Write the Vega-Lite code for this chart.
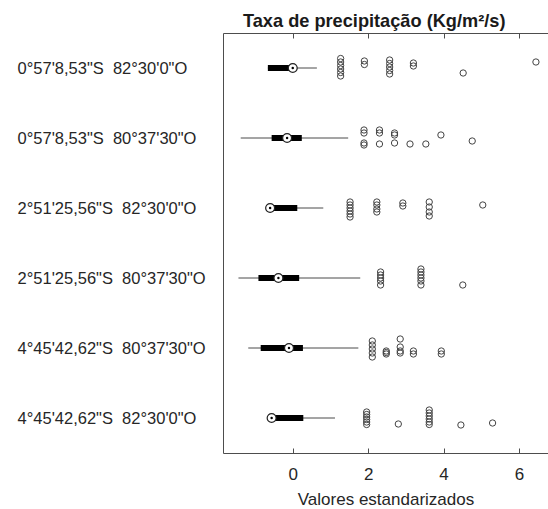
{
  "$schema": "https://vega.github.io/schema/vega-lite/v6.json",
  "autosize": "none",
  "width": 325,
  "height": 420,
  "padding": {"left": 223, "top": 33, "right": 0, "bottom": 56},
  "title": {
    "text": "Taxa de precipitação (Kg/m²/s)",
    "anchor": "start",
    "frame": "group",
    "dx": 20,
    "dy": 20,
    "offset": 7,
    "baseline": "alphabetic",
    "font": "Liberation Sans",
    "fontSize": 18.2,
    "fontWeight": "bold",
    "color": "#1a1a1a"
  },
  "datasets": {
    "stats": [
      {"site": "0°57'8,53\"S\u00a0 82°30'0\"O", "lo": -0.66, "q1": -0.66, "med": 0.0, "q3": 0.0, "hi": 0.64},
      {"site": "0°57'8,53\"S\u00a0 80°37'30\"O", "lo": -1.38, "q1": -0.56, "med": -0.15, "q3": 0.24, "hi": 1.47},
      {"site": "2°51'25,56\"S\u00a0 82°30'0\"O", "lo": -0.6, "q1": -0.6, "med": -0.6, "q3": 0.12, "hi": 0.81},
      {"site": "2°51'25,56\"S\u00a0 80°37'30\"O", "lo": -1.44, "q1": -0.91, "med": -0.38, "q3": 0.17, "hi": 1.79},
      {"site": "4°45'42,62\"S\u00a0 80°37'30\"O", "lo": -1.18, "q1": -0.85, "med": -0.1, "q3": 0.27, "hi": 1.74},
      {"site": "4°45'42,62\"S\u00a0 82°30'0\"O", "lo": -0.56, "q1": -0.56, "med": -0.56, "q3": 0.28, "hi": 1.12}
    ],
    "outliers": [
      {"site": "0°57'8,53\"S\u00a0 82°30'0\"O", "value": 1.27, "jitter": -0.95},
      {"site": "0°57'8,53\"S\u00a0 82°30'0\"O", "value": 1.27, "jitter": -0.6},
      {"site": "0°57'8,53\"S\u00a0 82°30'0\"O", "value": 1.27, "jitter": -0.25},
      {"site": "0°57'8,53\"S\u00a0 82°30'0\"O", "value": 1.27, "jitter": 0.1},
      {"site": "0°57'8,53\"S\u00a0 82°30'0\"O", "value": 1.27, "jitter": 0.45},
      {"site": "0°57'8,53\"S\u00a0 82°30'0\"O", "value": 1.27, "jitter": 0.8},
      {"site": "0°57'8,53\"S\u00a0 82°30'0\"O", "value": 1.9, "jitter": -0.7},
      {"site": "0°57'8,53\"S\u00a0 82°30'0\"O", "value": 1.9, "jitter": -0.35},
      {"site": "0°57'8,53\"S\u00a0 82°30'0\"O", "value": 2.57, "jitter": -0.8},
      {"site": "0°57'8,53\"S\u00a0 82°30'0\"O", "value": 2.57, "jitter": -0.45},
      {"site": "0°57'8,53\"S\u00a0 82°30'0\"O", "value": 2.57, "jitter": -0.1},
      {"site": "0°57'8,53\"S\u00a0 82°30'0\"O", "value": 2.57, "jitter": 0.25},
      {"site": "0°57'8,53\"S\u00a0 82°30'0\"O", "value": 2.57, "jitter": 0.6},
      {"site": "0°57'8,53\"S\u00a0 82°30'0\"O", "value": 3.2, "jitter": -0.5},
      {"site": "0°57'8,53\"S\u00a0 82°30'0\"O", "value": 3.2, "jitter": -0.2},
      {"site": "0°57'8,53\"S\u00a0 82°30'0\"O", "value": 4.52, "jitter": 0.5},
      {"site": "0°57'8,53\"S\u00a0 82°30'0\"O", "value": 6.45, "jitter": -0.6},

      {"site": "0°57'8,53\"S\u00a0 80°37'30\"O", "value": 1.89, "jitter": -0.8},
      {"site": "0°57'8,53\"S\u00a0 80°37'30\"O", "value": 1.89, "jitter": -0.5},
      {"site": "0°57'8,53\"S\u00a0 80°37'30\"O", "value": 1.89, "jitter": 0.5},
      {"site": "0°57'8,53\"S\u00a0 80°37'30\"O", "value": 1.89, "jitter": 0.7},
      {"site": "0°57'8,53\"S\u00a0 80°37'30\"O", "value": 2.3, "jitter": -0.8},
      {"site": "0°57'8,53\"S\u00a0 80°37'30\"O", "value": 2.3, "jitter": -0.5},
      {"site": "0°57'8,53\"S\u00a0 80°37'30\"O", "value": 2.3, "jitter": 0.6},
      {"site": "0°57'8,53\"S\u00a0 80°37'30\"O", "value": 2.7, "jitter": -0.5},
      {"site": "0°57'8,53\"S\u00a0 80°37'30\"O", "value": 2.7, "jitter": -0.3},
      {"site": "0°57'8,53\"S\u00a0 80°37'30\"O", "value": 2.7, "jitter": 0.5},
      {"site": "0°57'8,53\"S\u00a0 80°37'30\"O", "value": 3.11, "jitter": 0.6},
      {"site": "0°57'8,53\"S\u00a0 80°37'30\"O", "value": 3.53, "jitter": 0.6},
      {"site": "0°57'8,53\"S\u00a0 80°37'30\"O", "value": 3.93, "jitter": -0.3},
      {"site": "0°57'8,53\"S\u00a0 80°37'30\"O", "value": 4.76, "jitter": 0.3},

      {"site": "2°51'25,56\"S\u00a0 82°30'0\"O", "value": 1.52, "jitter": -0.6},
      {"site": "2°51'25,56\"S\u00a0 82°30'0\"O", "value": 1.52, "jitter": -0.3},
      {"site": "2°51'25,56\"S\u00a0 82°30'0\"O", "value": 1.52, "jitter": 0.0},
      {"site": "2°51'25,56\"S\u00a0 82°30'0\"O", "value": 1.52, "jitter": 0.3},
      {"site": "2°51'25,56\"S\u00a0 82°30'0\"O", "value": 1.52, "jitter": 0.6},
      {"site": "2°51'25,56\"S\u00a0 82°30'0\"O", "value": 1.52, "jitter": 0.9},
      {"site": "2°51'25,56\"S\u00a0 82°30'0\"O", "value": 2.23, "jitter": -0.6},
      {"site": "2°51'25,56\"S\u00a0 82°30'0\"O", "value": 2.23, "jitter": -0.3},
      {"site": "2°51'25,56\"S\u00a0 82°30'0\"O", "value": 2.23, "jitter": 0.1},
      {"site": "2°51'25,56\"S\u00a0 82°30'0\"O", "value": 2.23, "jitter": 0.4},
      {"site": "2°51'25,56\"S\u00a0 82°30'0\"O", "value": 2.92, "jitter": -0.5},
      {"site": "2°51'25,56\"S\u00a0 82°30'0\"O", "value": 2.92, "jitter": -0.2},
      {"site": "2°51'25,56\"S\u00a0 82°30'0\"O", "value": 3.62, "jitter": -0.6},
      {"site": "2°51'25,56\"S\u00a0 82°30'0\"O", "value": 3.62, "jitter": -0.1},
      {"site": "2°51'25,56\"S\u00a0 82°30'0\"O", "value": 3.62, "jitter": 0.4},
      {"site": "2°51'25,56\"S\u00a0 82°30'0\"O", "value": 3.62, "jitter": 0.8},
      {"site": "2°51'25,56\"S\u00a0 82°30'0\"O", "value": 5.04, "jitter": -0.3},

      {"site": "2°51'25,56\"S\u00a0 80°37'30\"O", "value": 2.33, "jitter": -0.6},
      {"site": "2°51'25,56\"S\u00a0 80°37'30\"O", "value": 2.33, "jitter": -0.3},
      {"site": "2°51'25,56\"S\u00a0 80°37'30\"O", "value": 2.33, "jitter": 0.0},
      {"site": "2°51'25,56\"S\u00a0 80°37'30\"O", "value": 2.33, "jitter": 0.3},
      {"site": "2°51'25,56\"S\u00a0 80°37'30\"O", "value": 2.33, "jitter": 0.7},
      {"site": "2°51'25,56\"S\u00a0 80°37'30\"O", "value": 3.4, "jitter": -0.9},
      {"site": "2°51'25,56\"S\u00a0 80°37'30\"O", "value": 3.4, "jitter": -0.6},
      {"site": "2°51'25,56\"S\u00a0 80°37'30\"O", "value": 3.4, "jitter": -0.3},
      {"site": "2°51'25,56\"S\u00a0 80°37'30\"O", "value": 3.4, "jitter": 0.0},
      {"site": "2°51'25,56\"S\u00a0 80°37'30\"O", "value": 3.4, "jitter": 0.3},
      {"site": "2°51'25,56\"S\u00a0 80°37'30\"O", "value": 3.4, "jitter": 0.7},
      {"site": "2°51'25,56\"S\u00a0 80°37'30\"O", "value": 4.51, "jitter": 0.7},

      {"site": "4°45'42,62\"S\u00a0 80°37'30\"O", "value": 2.11, "jitter": -0.7},
      {"site": "4°45'42,62\"S\u00a0 80°37'30\"O", "value": 2.11, "jitter": -0.3},
      {"site": "4°45'42,62\"S\u00a0 80°37'30\"O", "value": 2.11, "jitter": 0.1},
      {"site": "4°45'42,62\"S\u00a0 80°37'30\"O", "value": 2.11, "jitter": 0.5},
      {"site": "4°45'42,62\"S\u00a0 80°37'30\"O", "value": 2.11, "jitter": 0.9},
      {"site": "4°45'42,62\"S\u00a0 80°37'30\"O", "value": 2.48, "jitter": 0.3},
      {"site": "4°45'42,62\"S\u00a0 80°37'30\"O", "value": 2.48, "jitter": 0.45},
      {"site": "4°45'42,62\"S\u00a0 80°37'30\"O", "value": 2.48, "jitter": 0.6},
      {"site": "4°45'42,62\"S\u00a0 80°37'30\"O", "value": 2.85, "jitter": -0.9},
      {"site": "4°45'42,62\"S\u00a0 80°37'30\"O", "value": 2.85, "jitter": -0.1},
      {"site": "4°45'42,62\"S\u00a0 80°37'30\"O", "value": 2.85, "jitter": 0.3},
      {"site": "4°45'42,62\"S\u00a0 80°37'30\"O", "value": 2.85, "jitter": 0.5},
      {"site": "4°45'42,62\"S\u00a0 80°37'30\"O", "value": 3.2, "jitter": 0.3},
      {"site": "4°45'42,62\"S\u00a0 80°37'30\"O", "value": 3.2, "jitter": 0.6},
      {"site": "4°45'42,62\"S\u00a0 80°37'30\"O", "value": 3.94, "jitter": 0.3},
      {"site": "4°45'42,62\"S\u00a0 80°37'30\"O", "value": 3.94, "jitter": 0.6},

      {"site": "4°45'42,62\"S\u00a0 82°30'0\"O", "value": 1.96, "jitter": -0.6},
      {"site": "4°45'42,62\"S\u00a0 82°30'0\"O", "value": 1.96, "jitter": -0.35},
      {"site": "4°45'42,62\"S\u00a0 82°30'0\"O", "value": 1.96, "jitter": -0.1},
      {"site": "4°45'42,62\"S\u00a0 82°30'0\"O", "value": 1.96, "jitter": 0.15},
      {"site": "4°45'42,62\"S\u00a0 82°30'0\"O", "value": 1.96, "jitter": 0.4},
      {"site": "4°45'42,62\"S\u00a0 82°30'0\"O", "value": 1.96, "jitter": 0.65},
      {"site": "4°45'42,62\"S\u00a0 82°30'0\"O", "value": 2.8, "jitter": 0.6},
      {"site": "4°45'42,62\"S\u00a0 82°30'0\"O", "value": 3.62, "jitter": -0.8},
      {"site": "4°45'42,62\"S\u00a0 82°30'0\"O", "value": 3.62, "jitter": -0.5},
      {"site": "4°45'42,62\"S\u00a0 82°30'0\"O", "value": 3.62, "jitter": -0.2},
      {"site": "4°45'42,62\"S\u00a0 82°30'0\"O", "value": 3.62, "jitter": 0.1},
      {"site": "4°45'42,62\"S\u00a0 82°30'0\"O", "value": 3.62, "jitter": 0.4},
      {"site": "4°45'42,62\"S\u00a0 82°30'0\"O", "value": 3.62, "jitter": 0.65},
      {"site": "4°45'42,62\"S\u00a0 82°30'0\"O", "value": 4.46, "jitter": 0.7},
      {"site": "4°45'42,62\"S\u00a0 82°30'0\"O", "value": 5.3, "jitter": 0.5}
    ]
  },
  "resolve": {"axis": {"x": "independent"}},
  "layer": [
    {
      "data": {"name": "stats"},
      "mark": {"type": "rule", "color": "#4a4a4a", "strokeWidth": 1},
      "encoding": {
        "y": {
          "field": "site", "type": "nominal", "sort": null,
          "scale": {"paddingInner": 0, "paddingOuter": 0},
          "axis": {
            "title": null, "ticks": false, "domain": true,
            "labelAlign": "left", "labelPadding": 206, "labelLimit": 260,
            "labelFontSize": 16.5, "labelBaseline": "middle", "labelOffset": 1
          }
        },
        "x": {
          "field": "lo", "type": "quantitative",
          "scale": {"domain": [-1.85, 6.77], "nice": false, "zero": false},
          "axis": {
            "orient": "bottom", "values": [0, 2, 4, 6], "tickSize": -5,
            "labelPadding": 18, "labelFontSize": 17,
            "title": "Valores estandarizados", "titleFontSize": 17,
            "titleFontWeight": "normal", "titleBaseline": "alphabetic", "titleY": 51
          }
        },
        "x2": {"field": "hi"}
      }
    },
    {
      "data": {"name": "stats"},
      "mark": {"type": "rule", "color": "#000000", "strokeWidth": 6},
      "encoding": {
        "y": {"field": "site", "type": "nominal", "sort": null},
        "x": {"field": "q1", "type": "quantitative", "axis": null},
        "x2": {"field": "q3"}
      }
    },
    {
      "data": {"name": "stats"},
      "mark": {"type": "point", "shape": "circle", "filled": true, "fill": "#ffffff", "stroke": "#222222", "strokeWidth": 1.2, "size": 80, "opacity": 1},
      "encoding": {
        "y": {"field": "site", "type": "nominal", "sort": null},
        "x": {"field": "med", "type": "quantitative", "axis": null}
      }
    },
    {
      "data": {"name": "stats"},
      "mark": {"type": "point", "shape": "circle", "filled": true, "color": "#000000", "size": 6, "opacity": 1},
      "encoding": {
        "y": {"field": "site", "type": "nominal", "sort": null},
        "x": {"field": "med", "type": "quantitative", "axis": null}
      }
    },
    {
      "data": {"name": "outliers"},
      "mark": {"type": "point", "shape": "circle", "filled": false, "stroke": "#444444", "strokeWidth": 1, "size": 40, "opacity": 1},
      "encoding": {
        "y": {"field": "site", "type": "nominal", "sort": null},
        "yOffset": {"field": "jitter", "type": "quantitative", "scale": {"domain": [-1, 1], "range": [25, 45]}},
        "x": {
          "field": "value", "type": "quantitative",
          "axis": {"orient": "top", "values": [0, 2, 4, 6], "tickSize": -5, "labels": false, "title": null}
        }
      }
    }
  ],
  "config": {
    "view": {"stroke": null},
    "axis": {
      "grid": false,
      "labelFont": "Liberation Sans",
      "titleFont": "Liberation Sans",
      "labelColor": "#262626",
      "titleColor": "#262626",
      "domainColor": "#4d4d4d",
      "tickColor": "#4d4d4d",
      "domainWidth": 1,
      "tickWidth": 1
    }
  }
}
